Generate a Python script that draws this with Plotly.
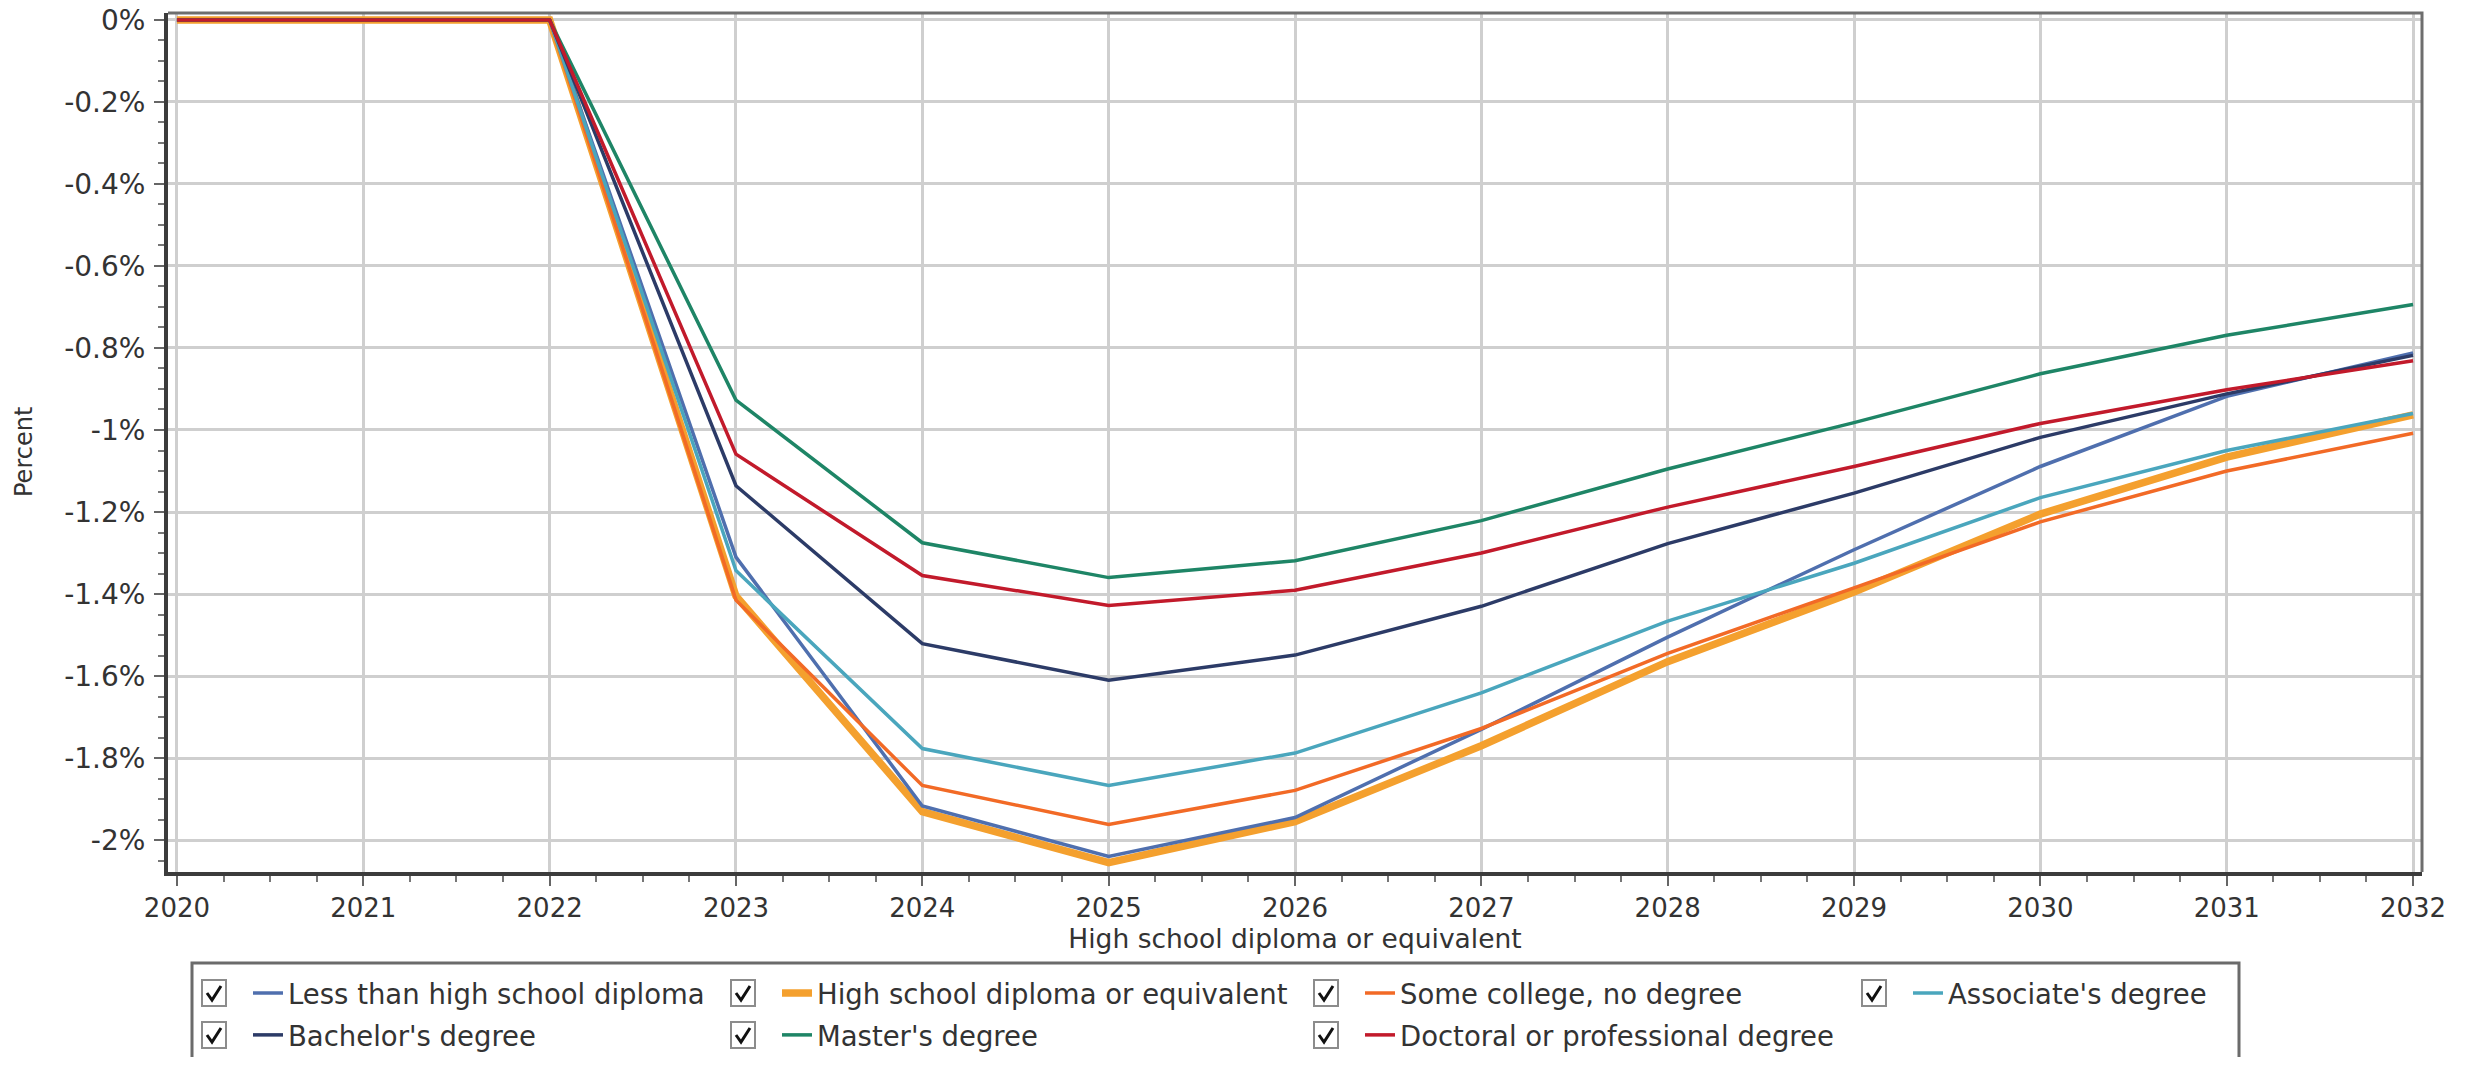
import plotly.graph_objects as go

# ---------------- data ----------------
years = [2020, 2021, 2022, 2023, 2024, 2025, 2026, 2027, 2028, 2029, 2030, 2031, 2032]

less_than_hs = [0, 0, 0, -1.310, -1.917, -2.040, -1.945, -1.730, -1.505, -1.292, -1.089, -0.918, -0.812]
hs_diploma = [0, 0, 0, -1.405, -1.931, -2.055, -1.955, -1.770, -1.565, -1.395, -1.205, -1.066, -0.963]
some_college = [0, 0, 0, -1.415, -1.867, -1.962, -1.879, -1.728, -1.545, -1.385, -1.224, -1.100, -1.008]
associates = [0, 0, 0, -1.343, -1.777, -1.867, -1.788, -1.641, -1.466, -1.325, -1.165, -1.050, -0.960]
bachelors = [0, 0, 0, -1.136, -1.521, -1.610, -1.549, -1.430, -1.277, -1.154, -1.018, -0.912, -0.818]
masters = [0, 0, 0, -0.927, -1.275, -1.360, -1.319, -1.221, -1.095, -0.982, -0.863, -0.769, -0.694]
doctoral = [0, 0, 0, -1.059, -1.355, -1.428, -1.391, -1.300, -1.188, -1.089, -0.984, -0.902, -0.831]

series_names = ["Less than high school diploma", "High school diploma or equivalent",
                "Some college, no degree", "Associate's degree",
                "Bachelor's degree", "Master's degree", "Doctoral or professional degree"]

y_tickvals = [0, -0.2, -0.4, -0.6, -0.8, -1.0, -1.2, -1.4, -1.6, -1.8, -2.0]
y_ticktext = ["0%", "-0.2%", "-0.4%", "-0.6%", "-0.8%", "-1%", "-1.2%", "-1.4%", "-1.6%", "-1.8%", "-2%"]
x_title = "High school diploma or equivalent"
y_title = "Percent"

# ---------------- styling ----------------
PAGE_W, PAGE_H = 2476, 1065
OFF = 8                                   # default body margin of the html page
FW, FH = PAGE_W - 2 * OFF, PAGE_H - 2 * OFF
PLOT_L, PLOT_R, PLOT_T, PLOT_B = 168, 2422, 13, 872   # page pixels
ML, MT = PLOT_L - OFF, PLOT_T - OFF
MR, MB = FW - (PLOT_R - OFF), FH - (PLOT_B - OFF)
PW, PH = PLOT_R - PLOT_L, PLOT_B - PLOT_T
FONT = "DejaVu Sans"
TXT = "#333333"


def px_x(px):
    return (px - PLOT_L) / PW


def px_y(py):
    return (PLOT_B - py) / PH


def cx(px):
    return (px - OFF) / FW


def cy(py):
    return 1 - (py - OFF) / FH


styles = {
    "Less than high school diploma": dict(color="#4f6fae", width=3.5),
    "High school diploma or equivalent": dict(color="#f4a02e", width=7.5),
    "Some college, no degree": dict(color="#f26a26", width=3.5),
    "Associate's degree": dict(color="#4aa6bd", width=3.5),
    "Bachelor's degree": dict(color="#2c3b67", width=3.5),
    "Master's degree": dict(color="#1e8566", width=3.5),
    "Doctoral or professional degree": dict(color="#c21a2b", width=3.5),
}

values = {
    "Less than high school diploma": less_than_hs,
    "High school diploma or equivalent": hs_diploma,
    "Some college, no degree": some_college,
    "Associate's degree": associates,
    "Bachelor's degree": bachelors,
    "Master's degree": masters,
    "Doctoral or professional degree": doctoral,
}

# legend layout: (column text x px, row center y px)
col_text_x = [290, 819, 1402, 1950]
row_y = [993, 1035]
legend_pos = {
    "Less than high school diploma": (0, 0),
    "High school diploma or equivalent": (1, 0),
    "Some college, no degree": (2, 0),
    "Associate's degree": (3, 0),
    "Bachelor's degree": (0, 1),
    "Master's degree": (1, 1),
    "Doctoral or professional degree": (2, 1),
}
legend_ids = {name: ("legend" if i == 0 else f"legend{i+1}") for i, name in enumerate(series_names)}

draw_order = ["High school diploma or equivalent", "Less than high school diploma",
              "Some college, no degree", "Associate's degree", "Bachelor's degree",
              "Master's degree", "Doctoral or professional degree"]

fig = go.Figure()
for name in draw_order:
    fig.add_trace(go.Scatter(
        x=years, y=values[name], mode="lines", name=name,
        line=dict(color=styles[name]["color"], width=styles[name]["width"]),
        legend=legend_ids[name],
    ))

layout_legends = {}
shapes = []
for name in series_names:
    c, r = legend_pos[name]
    lid = legend_ids[name]
    origin = col_text_x[c] - 42
    layout_legends[lid] = dict(
        x=cx(origin), y=cy(row_y[r]), xref="container", yref="container",
        xanchor="left", yanchor="middle",
        orientation="v", bgcolor="rgba(0,0,0,0)", borderwidth=0,
        font=dict(family=FONT, size=27.5, color=TXT), itemwidth=30,
        itemclick=False, itemdoubleclick=False,
    )
    # checkbox
    bx = col_text_x[c] - 88
    by = row_y[r] - 13
    shapes.append(dict(type="rect", xref="paper", yref="paper",
                       x0=px_x(bx), x1=px_x(bx + 24), y0=px_y(by), y1=px_y(by + 26),
                       line=dict(color="#8c8c8c", width=2), fillcolor="white", layer="above"))
    shapes.append(dict(type="path", xref="paper", yref="paper",
                       path=(f"M {px_x(bx+5)},{px_y(by+13)} L {px_x(bx+10)},{px_y(by+20)} "
                             f"L {px_x(bx+19)},{px_y(by+6)}"),
                       line=dict(color="#111111", width=3), layer="above"))

# legend frame
shapes.insert(0, dict(type="rect", xref="paper", yref="paper",
                      x0=px_x(192), x1=px_x(2239), y0=px_y(1080), y1=px_y(963),
                      line=dict(color="#6b6b6b", width=3), fillcolor="white", layer="below"))
# top & right frame of plot
shapes.append(dict(type="path", xref="paper", yref="paper",
                   path="M 0,1 L 1,1 L 1,0", line=dict(color="#6e6e6e", width=3), layer="above"))

annotations = [dict(text=y_title, xref="paper", yref="paper", x=px_x(24), y=px_y(452),
                    xanchor="center", yanchor="middle", textangle=-90, showarrow=False,
                    font=dict(family=FONT, size=24, color=TXT))]

fig.update_layout(
    width=FW, height=FH,
    margin=dict(l=ML, r=MR, t=MT, b=MB, pad=0, autoexpand=False),
    paper_bgcolor="white", plot_bgcolor="white",
    font=dict(family=FONT, size=26, color=TXT),
    shapes=shapes, annotations=annotations,
    showlegend=True,
    **layout_legends,
)

fig.update_xaxes(
    range=[2019.952, 2032.048], tickmode="array", tickvals=years,
    ticktext=[str(y) for y in years], automargin=False, ticklabeloverflow="allow",
    showgrid=True, gridcolor="#cfcfcf", gridwidth=2.5,
    showline=True, linecolor="#3c3c3c", linewidth=4, zeroline=False,
    ticks="outside", ticklen=10, tickwidth=2, tickcolor="#666666",
    minor=dict(dtick=0.25, tick0=2020, ticks="outside", ticklen=6, tickwidth=2,
               tickcolor="#777777", showgrid=False),
    tickfont=dict(family=FONT, size=26, color=TXT),
    title=dict(text=x_title, font=dict(family=FONT, size=26.5, color=TXT), standoff=2),
)
fig.update_yaxes(
    range=[-2.078, 0.017], tickmode="array", tickvals=y_tickvals, ticktext=y_ticktext,
    automargin=False, ticklabeloverflow="allow",
    showgrid=True, gridcolor="#cfcfcf", gridwidth=2.5,
    showline=True, linecolor="#3c3c3c", linewidth=4, zeroline=False,
    ticks="outside", ticklen=10, tickwidth=2, tickcolor="#666666",
    minor=dict(dtick=0.05, tick0=0, ticks="outside", ticklen=6, tickwidth=2,
               tickcolor="#777777", showgrid=False),
    tickfont=dict(family=FONT, size=28, color=TXT),
    ticklabelstandoff=3,
)

fig.write_html("out.html")
